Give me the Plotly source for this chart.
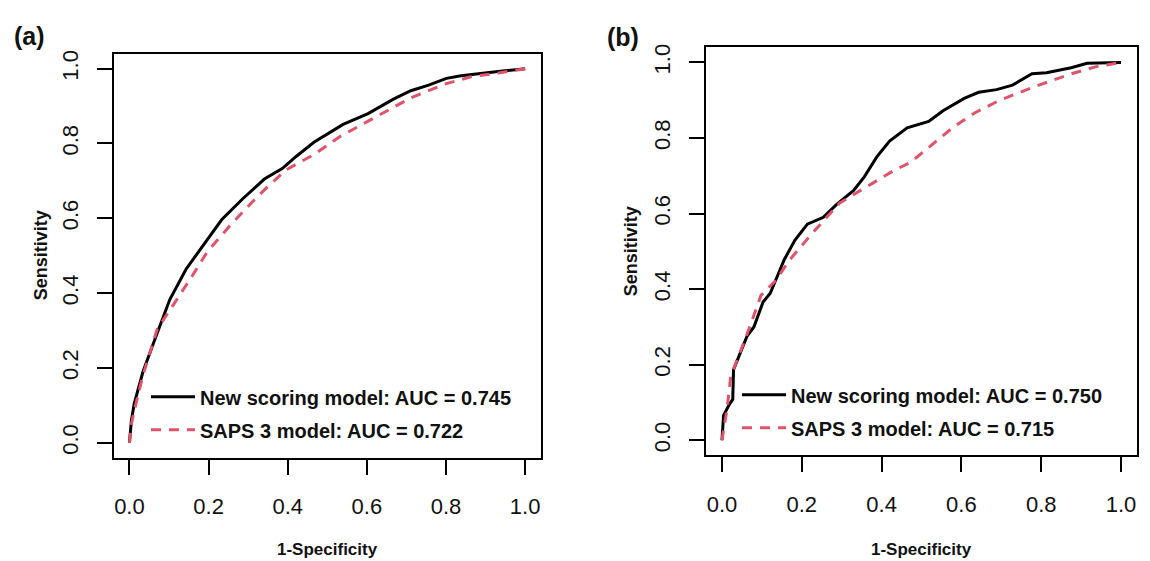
import plotly.graph_objects as go

# ---------------- data ----------------
a_new_fpr = [0, 0.005, 0.012, 0.034, 0.070, 0.102, 0.143, 0.188, 0.233, 0.287, 0.341, 0.386, 0.422,
             0.467, 0.540, 0.603, 0.666, 0.711, 0.756, 0.801, 0.838, 0.937, 1.0]
a_new_tpr = [0, 0.060, 0.104, 0.189, 0.293, 0.383, 0.464, 0.530, 0.596, 0.653, 0.705, 0.733, 0.766,
             0.804, 0.851, 0.880, 0.918, 0.941, 0.956, 0.974, 0.981, 0.993, 1.0]

a_saps_fpr = [0, 0.005, 0.012, 0.034, 0.070, 0.106, 0.152, 0.197, 0.251, 0.323, 0.395, 0.467,
              0.531, 0.621, 0.711, 0.801, 0.865, 0.937, 1.0]
a_saps_tpr = [0, 0.050, 0.085, 0.180, 0.303, 0.360, 0.435, 0.511, 0.577, 0.658, 0.729, 0.771,
              0.818, 0.870, 0.922, 0.960, 0.979, 0.989, 1.0]

b_new_fpr = [0, 0.002, 0.004, 0.018, 0.027, 0.029, 0.036, 0.063, 0.080, 0.103, 0.121, 0.156, 0.183,
             0.214, 0.254, 0.286, 0.330, 0.357, 0.388, 0.420, 0.464, 0.518, 0.554, 0.607, 0.643,
             0.688, 0.728, 0.777, 0.813, 0.875, 0.915, 0.973, 1.0]
b_new_tpr = [0, 0.028, 0.066, 0.094, 0.108, 0.187, 0.206, 0.276, 0.300, 0.366, 0.389, 0.478, 0.530,
             0.572, 0.590, 0.623, 0.661, 0.698, 0.750, 0.792, 0.827, 0.844, 0.872, 0.905, 0.921,
             0.928, 0.940, 0.970, 0.973, 0.986, 0.998, 1.0, 1.0]

b_saps_fpr = [0, 0.013, 0.022, 0.036, 0.063, 0.098, 0.134, 0.170, 0.223, 0.295, 0.348, 0.429,
              0.473, 0.527, 0.580, 0.634, 0.696, 0.786, 0.875, 0.938, 1.0]
b_saps_tpr = [0, 0.084, 0.169, 0.206, 0.281, 0.384, 0.422, 0.478, 0.544, 0.628, 0.661, 0.713,
              0.736, 0.783, 0.829, 0.867, 0.900, 0.937, 0.970, 0.989, 1.0]

a_labels = ["New scoring model: AUC = 0.745", "SAPS 3 model: AUC = 0.722"]
b_labels = ["New scoring model: AUC = 0.750", "SAPS 3 model: AUC = 0.715"]

tick_vals = [0, 0.2, 0.4, 0.6, 0.8, 1.0]
tick_text = ["0.0", "0.2", "0.4", "0.6", "0.8", "1.0"]

# ---------------- styling ----------------
W, H = 1150, 561
OFF = 8                      # page body margin
FW, FH = W - OFF, H - OFF
FONT = "Liberation Sans, Arial, Helvetica, sans-serif"
BLACK = "#000000"
RED = "#DF536B"
TXT = "#111111"

def px(X):
    return (X - OFF) / FW

def py(Y):
    return 1 - (Y - OFF) / FH

fig = go.Figure()

def add_pair(xa, ya, fpr1, tpr1, fpr2, tpr2, labels, legend):
    fig.add_trace(go.Scatter(x=fpr1, y=tpr1, mode="lines", name=labels[0],
                             line=dict(color=BLACK, width=3), xaxis=xa, yaxis=ya,
                             legend=legend, legendgroup=legend + "1"))
    fig.add_trace(go.Scatter(x=fpr2, y=tpr2, mode="lines", name=labels[1],
                             line=dict(color=RED, width=3, dash="10px,8px"), xaxis=xa, yaxis=ya,
                             legend=legend, legendgroup=legend + "2"))

add_pair("x", "y", a_new_fpr, a_new_tpr, a_saps_fpr, a_saps_tpr, a_labels, "legend")
add_pair("x2", "y2", b_new_fpr, b_new_tpr, b_saps_fpr, b_saps_tpr, b_labels, "legend2")

def axis(domain, anchor, angle=0, standoff=12):
    return dict(domain=domain, anchor=anchor, range=[-0.04, 1.04],
                tickvals=tick_vals, ticktext=tick_text, ticks="outside", ticklen=15,
                tickwidth=1.5, tickcolor=BLACK, showline=True, linewidth=1.5,
                linecolor=BLACK, mirror=True, showgrid=False, zeroline=False,
                tickfont=dict(size=22, family=FONT, color=TXT), tickangle=angle,
                ticklabelstandoff=standoff, fixedrange=True)

legend_style = dict(xanchor="left", yanchor="top", bgcolor="rgba(0,0,0,0)",
                    font=dict(size=20, family=FONT, color=TXT, weight="bold"),
                    tracegroupgap=4, itemwidth=44)

fig.update_layout(
    width=FW, height=FH,
    margin=dict(l=0, r=0, t=0, b=0),
    paper_bgcolor="white", plot_bgcolor="white",
    xaxis=axis([px(113.6), px(541)], "y", 0, 13),
    yaxis=axis([py(457), py(50)], "x", -90, 10),
    xaxis2=axis([px(706), px(1137)], "y2", 0, 13),
    yaxis2=axis([py(454.6), py(43.6)], "x2", -90, 10),
    legend=dict(x=px(146), y=py(376), **legend_style),
    legend2=dict(x=px(737), y=py(374), **legend_style),
    showlegend=True,
)

def text(x, y, s, size, angle=0):
    fig.add_annotation(x=px(x), y=py(y), xref="paper", yref="paper", text="<b>%s</b>" % s,
                       showarrow=False, textangle=angle, xanchor="center", yanchor="middle",
                       font=dict(size=size, family=FONT, color=TXT))

text(29, 32, "(a)", 25)
text(623, 33, "(b)", 25)
text(327, 549, "1-Specificity", 17)
text(921, 549, "1-Specificity", 17)
text(41, 253, "Sensitivity", 18, -90)
text(631, 249, "Sensitivity", 18, -90)

fig.write_html("out.html")
